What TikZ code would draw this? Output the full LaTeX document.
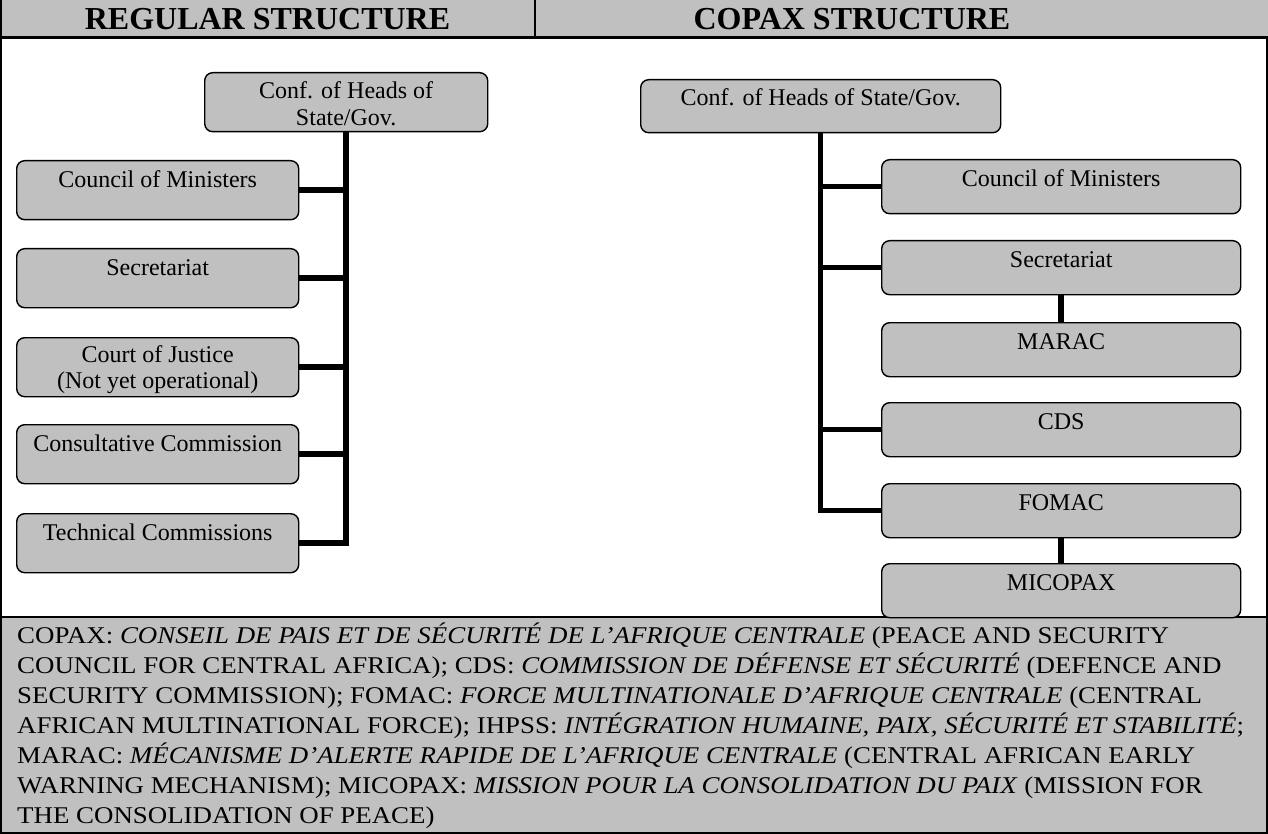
\documentclass[tikz,border=0pt]{standalone}
\usepackage{fontspec}
\usepackage{graphicx}
\setmainfont{Liberation Serif}
\definecolor{boxgray}{RGB}{192,192,192}
\begin{document}
\begin{tikzpicture}[x=1pt,y=-1pt,
  box/.style={draw=black, line width=1.4pt, fill=boxgray, rounded corners=8pt, inner sep=0pt,
              anchor=north west, font=\fontsize{24}{27}\selectfont, text height=27pt},
  lbox/.style={box, minimum width=282pt, text depth=32pt},
  rbox/.style={box, minimum width=359pt, text depth=27pt},
  link/.style={line width=5.5pt},
  frame/.style={line width=2pt},
  head/.style={anchor=base, inner sep=0pt, font=\fontsize{32}{36}\selectfont\bfseries}]
\useasboundingbox (0,0) rectangle (1268,834);
% header and footer bands
\fill[boxgray] (0,0) rectangle (1268,38);
\fill[boxgray] (0,617) rectangle (1268,834);
\draw[line width=3pt] (0,38) -- (1268,38);
\draw[frame] (535,0) -- (535,38);
\draw[line width=2.5pt] (0,617) -- (1268,617);
\draw[frame] (1,0) -- (1,833) -- (1268,833);
\draw[frame] (1267,38) -- (1267,833);
\node[head] (hL) at (267.5,30) {REGULAR STRUCTURE};
\node[head] (hR) at (852,30) {COPAX STRUCTURE};
% left chart
\node[box, minimum width=283pt, text height=26pt, text depth=33pt] (confL) at (204,72)
  {\begin{tabular}[t]{@{}c@{}}Conf. of Heads of\\State/Gov.\end{tabular}};
\node[lbox] (councilL) at (16,160) {Council of Ministers};
\node[lbox] (secL) at (16,248) {Secretariat};
\node[lbox, font=\fontsize{24}{26}\selectfont, text height=25pt, text depth=34pt] (courtL) at (16,337)
  {\begin{tabular}[t]{@{}c@{}}Court of Justice\\(Not yet operational)\end{tabular}};
\node[lbox] (consL) at (16,424) {Consultative Commission};
\node[lbox] (techL) at (16,513) {Technical Commissions};
\draw[link] (confL.south) |- (techL.east);
\foreach \n in {councilL,secL,courtL,consL}
  \draw[link] (\n.east) -- (\n.east -| confL.south);
% right chart
\node[box, minimum width=360pt, text height=26pt, text depth=27pt] (confR) at (640,79)
  {Conf. of Heads of State/Gov.};
\node[rbox] (councilR) at (881,159) {Council of Ministers};
\node[rbox] (secR) at (881,240) {Secretariat};
\node[rbox] (maracR) at (881,322) {MARAC};
\node[rbox] (cdsR) at (881,402) {CDS};
\node[rbox] (fomacR) at (881,483) {FOMAC};
\node[rbox] (micopaxR) at (881,563) {MICOPAX};
\draw[link] (confR.south) |- (fomacR.west);
\foreach \n in {councilR,secR,cdsR}
  \draw[link] (\n.west) -- (\n.west -| confR.south);
\draw[link] (secR.south) -- (maracR.north);
\draw[link] (fomacR.south) -- (micopaxR.north);
% legend
\node[anchor=base west, inner sep=0pt, font=\fontsize{24}{30}\selectfont] (legend) at (17,643)
  {\scalebox{1.12}[1]{\begin{tabular}[t]{@{}l@{}}
  COPAX: \textit{CONSEIL DE PAIS ET DE SÉCURITÉ DE L’AFRIQUE CENTRALE} (PEACE AND SECURITY\\
  COUNCIL FOR CENTRAL AFRICA); CDS: \textit{COMMISSION DE DÉFENSE ET SÉCURITÉ} (DEFENCE AND\\
  SECURITY COMMISSION); FOMAC: \textit{FORCE MULTINATIONALE D’AFRIQUE CENTRALE} (CENTRAL\\
  AFRICAN MULTINATIONAL FORCE); IHPSS: \textit{INTÉGRATION HUMAINE, PAIX, SÉCURITÉ ET STABILITÉ};\\
  MARAC: \textit{MÉCANISME D’ALERTE RAPIDE DE L’AFRIQUE CENTRALE} (CENTRAL AFRICAN EARLY\\
  WARNING MECHANISM); MICOPAX: \textit{MISSION POUR LA CONSOLIDATION DU PAIX} (MISSION FOR\\
  THE CONSOLIDATION OF PEACE)
  \end{tabular}}};
\end{tikzpicture}
\end{document}
